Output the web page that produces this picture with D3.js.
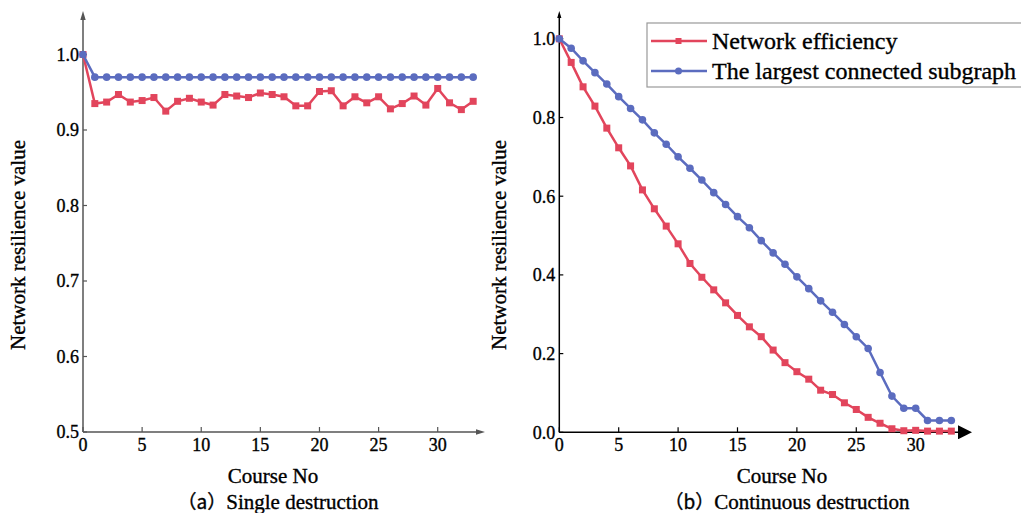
<!DOCTYPE html>
<html>
<head>
<meta charset="utf-8">
<script src="https://cdn.jsdelivr.net/npm/d3@7"></script>
<style>
  body { margin: 0; background: #fff; }
  svg text { stroke: #000; stroke-width: 0.35px; fill: #000; }
</style>
</head>
<body>
<div id="chart"></div>
<script>
// course numbers 0..33
const courses = d3.range(0, 34);

// (a) single destruction
const singleEfficiency = [1.0, 0.935, 0.937, 0.947, 0.937, 0.939, 0.943, 0.925, 0.938, 0.942,
  0.937, 0.933, 0.947, 0.945, 0.943, 0.949, 0.947, 0.944, 0.932, 0.932,
  0.951, 0.952, 0.932, 0.944, 0.936, 0.944, 0.928, 0.935, 0.945, 0.933,
  0.955, 0.936, 0.927, 0.938];
const singleSubgraph = [1.0, 0.97, 0.97, 0.97, 0.97, 0.97, 0.97, 0.97, 0.97, 0.97,
  0.97, 0.97, 0.97, 0.97, 0.97, 0.97, 0.97, 0.97, 0.97, 0.97,
  0.97, 0.97, 0.97, 0.97, 0.97, 0.97, 0.97, 0.97, 0.97, 0.97,
  0.97, 0.97, 0.97, 0.97];

// (b) continuous destruction
const contEfficiency = [1.0, 0.940, 0.878, 0.829, 0.773, 0.723, 0.677, 0.616, 0.568, 0.524,
  0.479, 0.429, 0.394, 0.362, 0.329, 0.297, 0.268, 0.243, 0.209, 0.177,
  0.154, 0.135, 0.107, 0.096, 0.075, 0.058, 0.038, 0.023, 0.009, 0.004,
  0.005, 0.003, 0.003, 0.003];
const contSubgraph = [1.0, 0.976, 0.944, 0.914, 0.885, 0.853, 0.823, 0.794, 0.761, 0.732,
  0.700, 0.671, 0.641, 0.609, 0.579, 0.548, 0.520, 0.487, 0.456, 0.427,
  0.395, 0.365, 0.334, 0.305, 0.274, 0.243, 0.213, 0.152, 0.092, 0.061,
  0.061, 0.030, 0.030, 0.030];

const xTicks = [0, 5, 10, 15, 20, 25, 30];
const yTicksA = [0.5, 0.6, 0.7, 0.8, 0.9, 1.0];
const yTicksB = [0.0, 0.2, 0.4, 0.6, 0.8, 1.0];
const seriesNames = ["Network efficiency", "The largest connected subgraph"];

const red = "#e2455c";
const blue = "#5b6cbf";
const serif = "'Liberation Serif', 'DejaVu Serif', serif";
const cjk = "'Noto Sans CJK SC', sans-serif";

const svg = d3.select("#chart").append("svg")
    .attr("width", 1021)
    .attr("height", 513)
    .attr("font-family", serif);

const defs = svg.append("defs");
defs.append("marker")
    .attr("id", "arrowSmall")
    .attr("viewBox", "0 0 10 10")
    .attr("refX", 0).attr("refY", 5)
    .attr("markerWidth", 6).attr("markerHeight", 6)
    .attr("orient", "auto")
    .append("path").attr("d", "M0,2L10,5L0,8Z").attr("fill", "#555");
defs.append("marker")
    .attr("id", "arrowBig")
    .attr("viewBox", "0 0 10 10")
    .attr("refX", 0).attr("refY", 5)
    .attr("markerWidth", 14).attr("markerHeight", 14)
    .attr("markerUnits", "userSpaceOnUse")
    .attr("orient", "auto")
    .append("path").attr("d", "M0,0L10,5L0,10Z").attr("fill", "#000");
defs.append("marker")
    .attr("id", "arrowUp")
    .attr("viewBox", "0 0 10 10")
    .attr("refX", 0).attr("refY", 5)
    .attr("markerWidth", 7).attr("markerHeight", 7)
    .attr("markerUnits", "userSpaceOnUse")
    .attr("orient", "auto")
    .append("path").attr("d", "M0,2L10,5L0,8Z").attr("fill", "#000");

function panel(opts) {
  const x = d3.scaleLinear().domain([0, 34]).range(opts.xRange);
  const y = d3.scaleLinear().domain(opts.yDomain).range(opts.yRange);
  const g = svg.append("g");
  const axisColor = opts.axisColor;

  // axes lines with arrows
  g.append("line")
      .attr("x1", x(0)).attr("x2", opts.xArrow)
      .attr("y1", y.range()[0]).attr("y2", y.range()[0])
      .attr("stroke", axisColor).attr("stroke-width", 1.5)
      .attr("marker-end", opts.xMarker);
  g.append("line")
      .attr("x1", x(0)).attr("x2", x(0))
      .attr("y1", y.range()[0]).attr("y2", opts.yArrow)
      .attr("stroke", axisColor).attr("stroke-width", 1.5)
      .attr("marker-end", opts.yMarker);

  // x ticks (pointing inward)
  const xt = g.append("g").selectAll("g").data(xTicks).join("g")
      .attr("transform", d => `translate(${x(d)},${y.range()[0]})`);
  xt.append("line").attr("y1", 0).attr("y2", -5)
      .attr("stroke", axisColor).attr("stroke-width", 1.2);
  xt.append("text").attr("y", 19).attr("text-anchor", "middle")
      .attr("font-size", 18).text(d => d);

  // y ticks
  const yt = g.append("g").selectAll("g").data(opts.yTicks).join("g")
      .attr("transform", d => `translate(${x(0)},${y(d)})`);
  yt.append("line").attr("x1", 0).attr("x2", 4)
      .attr("stroke", axisColor).attr("stroke-width", 1.2);
  yt.append("text").attr("x", -4).attr("dy", "0.35em").attr("text-anchor", "end")
      .attr("font-size", 18).text(d => d3.format(".1f")(d));

  const line = d3.line().x((d, i) => x(courses[i])).y(d => y(d));

  // efficiency (squares)
  g.append("path").datum(opts.eff)
      .attr("d", line).attr("fill", "none")
      .attr("stroke", red).attr("stroke-width", 2.5);
  g.append("g").selectAll("rect").data(opts.eff).join("rect")
      .attr("x", (d, i) => x(courses[i]) - 3.5)
      .attr("y", d => y(d) - 3.5)
      .attr("width", 7).attr("height", 7)
      .attr("fill", red);

  // largest connected subgraph (circles)
  g.append("path").datum(opts.sub)
      .attr("d", line).attr("fill", "none")
      .attr("stroke", blue).attr("stroke-width", 2.5);
  g.append("g").selectAll("circle").data(opts.sub).join("circle")
      .attr("cx", (d, i) => x(courses[i]))
      .attr("cy", d => y(d))
      .attr("r", 3.8)
      .attr("fill", blue);

  // titles
  g.append("text")
      .attr("transform", `translate(${opts.yLabelX},245) rotate(-90)`)
      .attr("text-anchor", "middle").attr("font-size", 21)
      .text("Network resilience value");
  g.append("text")
      .attr("x", opts.captionX).attr("y", 483)
      .attr("text-anchor", "middle").attr("font-size", 21)
      .text("Course No");
  const cap = g.append("text")
      .attr("x", opts.captionX + 5).attr("y", 509)
      .attr("text-anchor", "middle").attr("font-size", 21);
  cap.append("tspan").attr("font-family", cjk).attr("font-size", 19).text("（" + opts.tag + "）");
  cap.append("tspan").text(opts.caption);

  return { x, y, g };
}

panel({
  xRange: [83, 485], xArrow: 476, xMarker: "url(#arrowSmall)",
  yDomain: [0.5, 1.0], yRange: [432, 54.5], yArrow: 20, yMarker: "url(#arrowSmall)",
  yTicks: yTicksA, axisColor: "#555",
  eff: singleEfficiency, sub: singleSubgraph,
  yLabelX: 25, captionX: 273, tag: "a", caption: "Single destruction"
});

panel({
  xRange: [559.3, 963.2], xArrow: 958, xMarker: "url(#arrowBig)",
  yDomain: [0, 1.0], yRange: [432.3, 38.8], yArrow: 18, yMarker: "url(#arrowUp)",
  yTicks: yTicksB, axisColor: "#000",
  eff: contEfficiency, sub: contSubgraph,
  yLabelX: 506, captionX: 782, tag: "b", caption: "Continuous destruction"
});

// legend
const legend = svg.append("g").attr("transform", "translate(647,23)");
legend.append("rect")
    .attr("x", 0).attr("y", 0).attr("width", 380).attr("height", 64)
    .attr("fill", "#fff").attr("stroke", "#999").attr("stroke-width", 1.2);
const legendItems = legend.selectAll("g.item").data(seriesNames).join("g")
    .attr("class", "item")
    .attr("transform", (d, i) => `translate(0,${18 + i * 30})`);
legendItems.append("line")
    .attr("x1", 4).attr("x2", 60)
    .attr("stroke", (d, i) => i === 0 ? red : blue).attr("stroke-width", 2.5);
legendItems.each(function (d, i) {
  const s = d3.select(this);
  if (i === 0) {
    s.append("rect").attr("x", 28.5).attr("y", -3).attr("width", 6).attr("height", 6).attr("fill", red);
  } else {
    s.append("circle").attr("cx", 31.5).attr("cy", 0).attr("r", 3.5).attr("fill", blue);
  }
});
legendItems.append("text")
    .attr("x", 65).attr("dy", "0.35em")
    .attr("font-size", 24)
    .text(d => d);
</script>
</body>
</html>
